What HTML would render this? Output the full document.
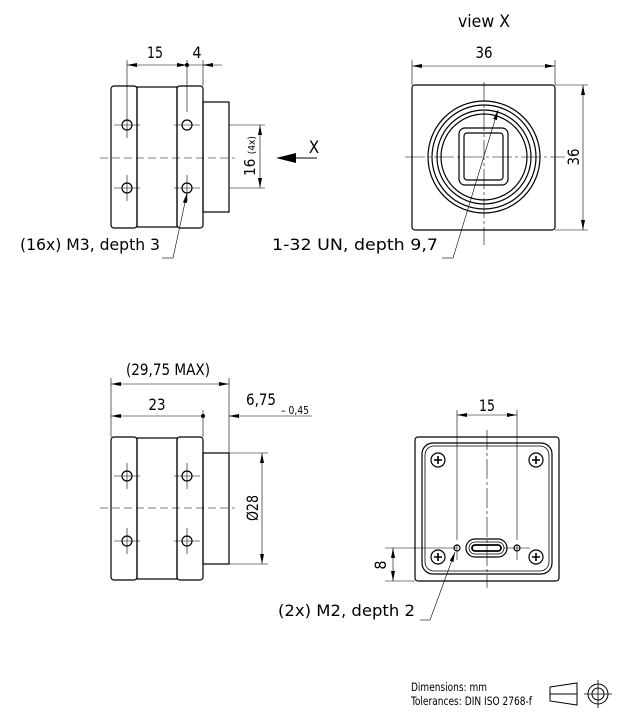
<!DOCTYPE html>
<html><head><meta charset="utf-8"><style>
html,body{margin:0;padding:0;background:#fff;}
svg{display:block;}
text{font-family:"Liberation Sans Narrow","DejaVu Sans Condensed","Liberation Sans",sans-serif;fill:#000;}
</style></head><body>
<svg width="642" height="723" viewBox="0 0 642 723" xmlns="http://www.w3.org/2000/svg">
<defs>
<marker id="a" viewBox="0 0 10 4" refX="10" refY="2" markerWidth="10" markerHeight="4" markerUnits="userSpaceOnUse" orient="auto-start-reverse"><path d="M0,0 L10,2 L0,4 z" fill="#000"/></marker>
</defs>
<g fill="none" stroke="#000" stroke-width="1.2">
<rect x="111" y="86" width="26" height="142" rx="3"/>
<rect x="137" y="87" width="40" height="140"/>
<rect x="177" y="86" width="26" height="142" rx="3"/>
<rect x="203" y="102" width="26" height="110"/>
<circle cx="127" cy="125" r="5"/><circle cx="187" cy="125" r="5"/>
<circle cx="127" cy="188" r="5"/><circle cx="187" cy="188" r="5"/>
</g>
<g fill="none" stroke="#000" stroke-width="0.6">
<path d="M114 125H140M174 125H200M114 188H140M174 188H200"/>
<path d="M127 112V138M127 175V201M187 175V201"/>
<path d="M127 60V112M187 60V112M203 60V86"/>
<path d="M100 158H235" stroke-dasharray="8,4"/>
<path d="M127 65H187" marker-start="url(#a)" marker-end="url(#a)"/>
<path d="M187 65H222"/>
<path d="M212 65H203" marker-end="url(#a)"/>
<path d="M229 125H265M229 188H265"/>
<path d="M260 125V188" marker-start="url(#a)" marker-end="url(#a)"/>
<path d="M173 258L187 193" marker-end="url(#a)"/>
<path d="M162 258H173"/>
</g>
<circle cx="187" cy="65" r="2" fill="#000"/>
<path d="M276 158L296 153V163Z" fill="#000"/>
<path d="M294 158H317" stroke="#000" stroke-width="1"/>
<text x="155" y="58" font-size="16" text-anchor="middle" textLength="16" lengthAdjust="spacingAndGlyphs">15</text>
<text x="197" y="58" font-size="16" text-anchor="middle">4</text>
<text x="314" y="153" font-size="17" text-anchor="middle">X</text>
<text transform="translate(255,156) rotate(-90)" font-size="15" text-anchor="middle" textLength="40" lengthAdjust="spacingAndGlyphs">16 <tspan font-size="10">(4x)</tspan></text>
<text x="20" y="250" font-size="16" textLength="140" lengthAdjust="spacingAndGlyphs">(16x) M3, depth 3</text>

<text x="484" y="27" font-size="17" text-anchor="middle" textLength="52" lengthAdjust="spacingAndGlyphs">view X</text>
<text x="484" y="58" font-size="16" text-anchor="middle" textLength="17" lengthAdjust="spacingAndGlyphs">36</text>
<g fill="none" stroke="#000" stroke-width="1.2">
<rect x="412" y="85" width="143" height="145" rx="3"/>
<circle cx="484" cy="157" r="56"/>
<circle cx="484" cy="157" r="52"/>
<circle cx="484" cy="157" r="47"/>
<circle cx="484" cy="157" r="43"/>
<rect x="459" y="128" width="49" height="57" rx="6"/>
<rect x="464" y="133" width="39" height="47" rx="3"/>
</g>
<g fill="none" stroke="#000" stroke-width="0.6">
<path d="M412 60V85M555 60V85M555 85H588M555 230H588"/>
<path d="M412 66H555" marker-start="url(#a)" marker-end="url(#a)"/>
<path d="M583 85V230" marker-start="url(#a)" marker-end="url(#a)"/>
<path d="M405 157H565M484 82V245" stroke-dasharray="20,3,3,3"/>
<path d="M453 258L498 110" marker-end="url(#a)"/>
<path d="M442 258H453"/>
</g>
<text transform="translate(579,157) rotate(-90)" font-size="16" text-anchor="middle" textLength="17" lengthAdjust="spacingAndGlyphs">36</text>
<text x="272" y="250" font-size="16" textLength="166" lengthAdjust="spacingAndGlyphs">1-32 UN, depth 9,7</text>

<text x="168" y="375" font-size="16" text-anchor="middle" textLength="84" lengthAdjust="spacingAndGlyphs">(29,75 MAX)</text>
<text x="157" y="410" font-size="16" text-anchor="middle" textLength="17" lengthAdjust="spacingAndGlyphs">23</text>
<text x="246" y="405" font-size="16" textLength="30" lengthAdjust="spacingAndGlyphs">6,75</text>
<text x="281" y="414" font-size="11" textLength="28" lengthAdjust="spacingAndGlyphs">– 0,45</text>
<g fill="none" stroke="#000" stroke-width="1.2">
<rect x="111" y="437" width="26" height="143" rx="3"/>
<rect x="137" y="438" width="40" height="141"/>
<rect x="177" y="437" width="26" height="143" rx="3"/>
<rect x="203" y="453" width="26" height="111"/>
<circle cx="127" cy="476" r="5"/><circle cx="187" cy="476" r="5"/>
<circle cx="127" cy="541" r="5"/><circle cx="187" cy="541" r="5"/>
</g>
<g fill="none" stroke="#000" stroke-width="0.6">
<path d="M114 476H140M174 476H200M114 541H140M174 541H200"/>
<path d="M127 463V489M187 463V489M127 528V554M187 528V554"/>
<path d="M111 378V437M203 410V437M229 378V453"/>
<path d="M100 508H235" stroke-dasharray="8,4"/>
<path d="M111 384H229" marker-start="url(#a)" marker-end="url(#a)"/>
<path d="M111 416H203" marker-start="url(#a)"/>
<path d="M312 416H229" marker-end="url(#a)"/>
<path d="M229 453H268M229 564H268"/>
<path d="M262 453V564" marker-start="url(#a)" marker-end="url(#a)"/>
</g>
<circle cx="203" cy="416" r="2" fill="#000"/>
<text transform="translate(258,508) rotate(-90)" font-size="16" text-anchor="middle" textLength="26" lengthAdjust="spacingAndGlyphs">Ø28</text>

<text x="487" y="411" font-size="16" text-anchor="middle" textLength="16" lengthAdjust="spacingAndGlyphs">15</text>
<g fill="none" stroke="#000" stroke-width="1.2">
<rect x="415" y="437" width="144" height="144" rx="3"/>
<rect x="422" y="443" width="130" height="131" rx="11"/>
<rect x="425" y="446" width="124" height="125" rx="9" stroke-width="0.8"/>
<circle cx="438" cy="460" r="7"/><circle cx="536" cy="460" r="7"/>
<circle cx="438" cy="557" r="7"/><circle cx="536" cy="557" r="7"/>
<circle cx="457" cy="548" r="3"/><circle cx="517" cy="548" r="3"/>
<rect x="466" y="539" width="41" height="18" rx="9"/>
<rect x="469" y="542" width="35" height="12" rx="6" stroke-width="0.8"/>
<rect x="472" y="545" width="29" height="6" rx="3" stroke-width="1.8"/>
</g>
<g stroke="#000" stroke-width="1.6">
<path d="M434 460H442M438 456V464M532 460H540M536 456V464M434 557H442M438 553V561M532 557H540M536 553V561"/>
</g>
<g fill="none" stroke="#000" stroke-width="0.6">
<path d="M457 410V540M517 410V540M457 545V560M517 545V560"/>
<path d="M457 415H517" marker-start="url(#a)" marker-end="url(#a)"/>
<path d="M487 430V588" stroke-dasharray="20,3,3,3"/>
<path d="M385 548H457M385 581H415M504 548H530"/>
<path d="M393 548V581" marker-start="url(#a)" marker-end="url(#a)"/>
<path d="M430 620L455 552" marker-end="url(#a)"/>
<path d="M420 620H430"/>
</g>
<text transform="translate(386,565) rotate(-90)" font-size="16" text-anchor="middle">8</text>
<text x="278" y="616" font-size="16" textLength="137" lengthAdjust="spacingAndGlyphs">(2x) M2, depth 2</text>

<text x="411" y="691" font-size="11.5" textLength="76" lengthAdjust="spacingAndGlyphs">Dimensions: mm</text>
<text x="411" y="705" font-size="11.5" textLength="121" lengthAdjust="spacingAndGlyphs">Tolerances: DIN ISO 2768-f</text>
<g fill="none" stroke="#000" stroke-width="1">
<path d="M550 687L577 683V705L550 701Z"/>
<path d="M550 694H577"/>
<circle cx="598" cy="694" r="10"/>
<circle cx="598" cy="694" r="6"/>
<path d="M584 694H612M598 680V708" stroke-width="0.8"/>
</g>
</svg>
</body></html>
